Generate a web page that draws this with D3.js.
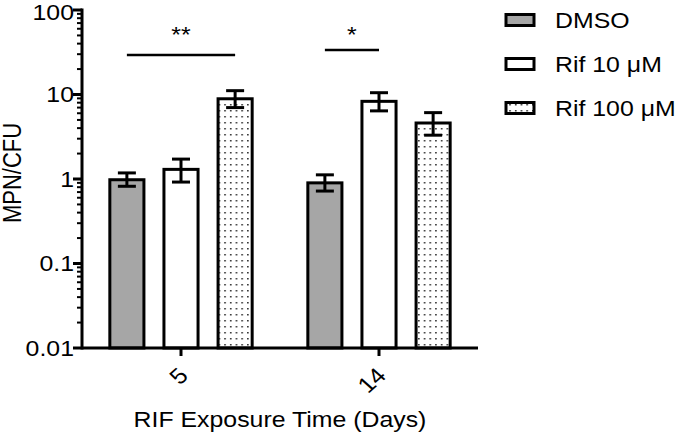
<!DOCTYPE html>
<html><head><meta charset="utf-8">
<script src="https://cdn.jsdelivr.net/npm/d3@7"></script>
<style>html,body{margin:0;padding:0;background:#fff}svg{display:block}</style>
</head><body>
<svg id="c" width="677" height="435"></svg>
<script>
const categories = ["5", "14"];
const seriesNames = ["DMSO", "Rif 10 \u03BCM", "Rif 100 \u03BCM"];
const dmsoMean = [0.98, 0.90];
const dmsoHigh = [1.18, 1.12];
const dmsoLow = [0.82, 0.72];
const rif10Mean = [1.30, 8.3];
const rif10High = [1.72, 10.5];
const rif10Low = [0.92, 6.4];
const rif100Mean = [8.9, 4.6];
const rif100High = [11.1, 6.1];
const rif100Low = [7.0, 3.3];
const yTicks = [0.01, 0.1, 1, 10, 100];
const yTickLabels = ["0.01", "0.1", "1", "10", "100"];
const signif = [{cat: "5", from: 0, to: 2, label: "**"}, {cat: "14", from: 0, to: 1, label: "*"}];

const means = [dmsoMean, rif10Mean, rif100Mean];
const highs = [dmsoHigh, rif10High, rif100High];
const lows = [dmsoLow, rif10Low, rif100Low];

const FONT = "'Liberation Sans', Arial, sans-serif";
const SX = 1.13;
const FS = 22;
const svg = d3.select("#c");

const defs = svg.append("defs");
const pat = defs.append("pattern").attr("id", "dots").attr("patternUnits", "userSpaceOnUse")
  .attr("width", 5.7).attr("height", 6);
pat.append("rect").attr("width", 5.7).attr("height", 6).attr("fill", "#fff");
pat.append("rect").attr("x", 2).attr("y", 2).attr("width", 1.5).attr("height", 1.5).attr("fill", "#222");
const fills = ["#a6a6a6", "#ffffff", "url(#dots)"];

const x0 = d3.scaleBand().domain(categories).range([82, 478]).paddingInner(0.18).paddingOuter(0.09);
const x1 = d3.scaleBand().domain(d3.range(3)).range([0, x0.bandwidth()]).paddingInner(0.37).paddingOuter(0.185);
const y = d3.scaleLog().domain([0.01, 100]).range([348, 10]);

// bars
const data = [];
categories.forEach((c, ci) => seriesNames.forEach((s, si) => data.push({c, ci, si, v: means[si][ci], hi: highs[si][ci], lo: lows[si][ci]})));
const bx = d => x0(d.c) + x1(d.si);
const bc = d => bx(d) + x1.bandwidth() / 2;

svg.append("g").selectAll("rect").data(data).join("rect")
  .attr("x", bx).attr("width", x1.bandwidth())
  .attr("y", d => y(d.v)).attr("height", d => y(0.01) - y(d.v))
  .attr("fill", d => fills[d.si]).attr("stroke", "#000").attr("stroke-width", 3);

// error bars
const eg = svg.append("g").attr("stroke", "#000").attr("stroke-width", 3);
data.forEach(d => {
  const cx = bc(d);
  eg.append("line").attr("x1", cx).attr("x2", cx).attr("y1", y(d.hi)).attr("y2", y(d.lo));
  eg.append("line").attr("x1", cx - 9).attr("x2", cx + 9).attr("y1", y(d.hi)).attr("y2", y(d.hi));
  eg.append("line").attr("x1", cx - 9).attr("x2", cx + 9).attr("y1", y(d.lo)).attr("y2", y(d.lo));
});

// y axis with minor ticks
const yAxisG = svg.append("g");
const minor = [];
for (let e = -2; e < 2; e++) for (let k = 2; k <= 9; k++) minor.push(k * Math.pow(10, e));
yAxisG.selectAll(".mn").data(minor).join("line").attr("x1", 77).attr("x2", 82)
  .attr("y1", d => y(d)).attr("y2", d => y(d)).attr("stroke", "#000").attr("stroke-width", 2);
yAxisG.selectAll(".mj").data(yTicks).join("line").attr("x1", 73).attr("x2", 82)
  .attr("y1", d => y(d)).attr("y2", d => y(d)).attr("stroke", "#000").attr("stroke-width", 3);
yAxisG.append("line").attr("x1", 82).attr("x2", 82).attr("y1", y(100) - 1.5).attr("y2", y(0.01) + 1.5)
  .attr("stroke", "#000").attr("stroke-width", 3);
yAxisG.selectAll("text").data(yTicks).join("text")
  .attr("transform", d => `translate(74,${Math.max(y(d), 12)}) scale(${SX},1)`)
  .attr("text-anchor", "end").attr("dy", "0.35em")
  .attr("font-family", FONT).attr("font-size", FS).attr("fill", "#000")
  .text((d, i) => yTickLabels[i]);

// x axis
const xg = svg.append("g");
xg.append("line").attr("x1", 82).attr("x2", 478).attr("y1", 348).attr("y2", 348).attr("stroke", "#000").attr("stroke-width", 3);
categories.forEach(c => {
  const cx = x0(c) + x0.bandwidth() / 2;
  xg.append("line").attr("x1", cx).attr("x2", cx).attr("y1", 348).attr("y2", 356).attr("stroke", "#000").attr("stroke-width", 3);
  xg.append("text").attr("transform", `translate(${cx - 4},${366}) scale(${SX},1) rotate(-45)`)
    .attr("text-anchor", "end").attr("dy", "0.71em")
    .attr("font-family", FONT).attr("font-size", FS).text(c);
});

// axis titles
svg.append("text").attr("transform", `translate(280,427) scale(${SX},1)`).attr("text-anchor", "middle")
  .attr("font-family", FONT).attr("font-size", FS).text("RIF Exposure Time (Days)");
svg.append("text").attr("transform", `translate(21,173) scale(${SX},1) rotate(-90)`).attr("text-anchor", "middle")
  .attr("font-family", FONT).attr("font-size", FS).text("MPN/CFU");

// significance
const sy = [55, 50];
signif.forEach((s, i) => {
  const a = x0(s.cat) + x1(s.from) + x1.bandwidth() / 2;
  const b = x0(s.cat) + x1(s.to) + x1.bandwidth() / 2;
  svg.append("line").attr("x1", a).attr("x2", b).attr("y1", sy[i]).attr("y2", sy[i]).attr("stroke", "#000").attr("stroke-width", 2.5);
  svg.append("text").attr("transform", `translate(${(a + b) / 2},${42}) scale(${SX},1)`).attr("text-anchor", "middle")
    .attr("font-family", FONT).attr("font-size", 22).text(s.label);
});

// legend
const lg = svg.append("g");
seriesNames.forEach((s, i) => {
  const cy = 20 + i * 44;
  lg.append("rect").attr("x", 506).attr("y", cy - 5.5).attr("width", 28).attr("height", 11)
    .attr("fill", fills[i]).attr("stroke", "#000").attr("stroke-width", 3);
  lg.append("text").attr("transform", `translate(555,${cy}) scale(${SX},1)`).attr("dy", "0.35em")
    .attr("font-family", FONT).attr("font-size", FS).text(s);
});
</script>
</body></html>
